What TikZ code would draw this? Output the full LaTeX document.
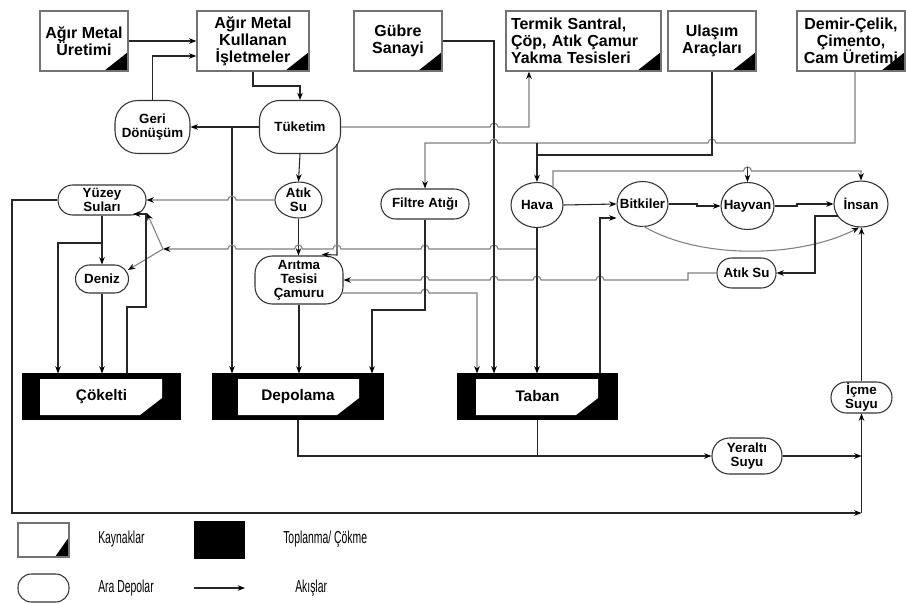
\documentclass[tikz,border=0pt]{standalone}
\usepackage{fontspec}
\setmainfont{Liberation Sans}
\newfontfamily\narrowfont[FakeStretch=0.6]{Liberation Sans}
\usetikzlibrary{arrows.meta,shapes.geometric}
\newcommand{\hpr}[2]{-- ({#1-4},#2) arc[start angle=180,end angle=360,radius=4]}
\newcommand{\hpl}[2]{-- ({#1+4},#2) arc[start angle=0,end angle=-180,radius=4]}
\begin{document}
\begin{tikzpicture}[x=0.75pt,y=-0.75pt,
  every node/.style={inner sep=0pt},
  sz/.style 2 args={minimum width=#1*0.75pt,minimum height=#2*0.75pt},
  srcbox/.style 2 args={draw=black!55, line width=1pt, fill=white, align=center,
    font=\fontsize{12}{12.8}\selectfont\bfseries,
    path picture={\fill[black] (path picture bounding box.south east) -- ++(-#1,0) -- ++(#1,#2) -- cycle;}},
  src/.style={srcbox={18pt}{14.25pt}},
  sinkbox/.style 2 args={fill=black, draw=black, line width=0.8pt,
    font=\fontsize{11.5}{12}\selectfont\bfseries,
    path picture={\fill[white]
      ([xshift=#1*0.75pt,yshift=-3.75pt]path picture bounding box.north west) --
      ([xshift=-#2*0.75pt,yshift=-3.75pt]path picture bounding box.north east) --
      ([xshift=-#2*0.75pt,yshift=15.75pt]path picture bounding box.south east) --
      ([xshift=-#2*0.75pt-16.5pt,yshift=3pt]path picture bounding box.south east) --
      ([xshift=#1*0.75pt,yshift=3pt]path picture bounding box.south west) -- cycle;}},
  mid/.style={draw=black!80, line width=0.8pt, fill=white, align=center,
    font=\fontsize{10}{10.5}\selectfont\bfseries},
  ell/.style={mid, ellipse, inner sep=-4pt},
  flow/.style={draw=black!85, line width=0.8pt, -{Stealth[length=5.5pt,width=4.2pt,color=black]}},
  gflow/.style={flow, draw=black!50},
  ln/.style={draw=black!85, line width=0.8pt},
  leg/.style={font=\narrowfont\fontsize{13}{14}\selectfont}
]
\useasboundingbox[fill=white] (0,0) rectangle (906,603);

% sources
\node[src, sz={88}{60}] (amu) at (84,41) {Ağır Metal\\Üretimi};
\node[src, sz={112}{60}] (amk) at (253,41) {Ağır Metal\\Kullanan\\İşletmeler};
\node[src, sz={88}{60}] (gub) at (398,41) {Gübre\\Sanayi};
\node[src, sz={155}{60}, text width=108.75pt, inner xsep=3.75pt, align=left] (ter) at (583.5,41) {Termik Santral,\\Çöp, Atık Çamur\\Yakma Tesisleri};
\node[src, sz={88}{60}] (ula) at (712,41) {Ulaşım\\Araçları};
\node[src, sz={108}{60}] (dem) at (851,41) {Demir-Çelik,\\Çimento,\\Cam Üretimi};

% intermediate stores
\node[mid, sz={81}{53}, rounded corners=15pt] (tuk) at (300,127) {Tüketim};
\node[mid, sz={75}{53}, rounded corners=17pt] (geri) at (152.5,127) {Geri\\Dönüşüm};
\node[ell, sz={47}{36}] (atik1) at (298.5,200) {Atık\\Su};
\node[mid, sz={88}{48}, rounded corners=13pt] (arit) at (299,280) {Arıtma\\Tesisi\\Çamuru};
\node[mid, sz={88}{30}, rounded corners=11pt] (filt) at (425,204) {Filtre Atığı};
\node[mid, sz={88}{30}, rounded corners=11pt] (yuz) at (102,200) {Yüzey\\Suları};
\node[mid, sz={53}{28}, rounded corners=10.5pt] (den) at (102,279) {Deniz};
\node[ell, sz={52}{45}] (hava) at (537,205) {Hava};
\node[ell, sz={51}{45}] (bit) at (642.5,204) {Bitkiler};
\node[ell, sz={53}{47}] (hay) at (747.5,206) {Hayvan};
\node[ell, sz={54}{46}] (ins) at (861,204) {İnsan};
\node[mid, sz={59}{30}, rounded corners=11pt] (atik2) at (746.5,273) {Atık Su};
\node[mid, sz={61}{31}, rounded corners=11.5pt] (icme) at (861.5,397.5) {İçme\\Suyu};
\node[mid, sz={70}{36}, rounded corners=13pt] (yer) at (747,456) {Yeraltı\\Suyu};

% sinks
\node[sinkbox={17}{18}, sz={157}{45}] (cok) at (101.5,396.5) {Çökelti};
\node[sinkbox={25}{24}, sz={170}{45}] (dep) at (298,396.5) {Depolama};
\node[sinkbox={18}{19}, sz={159}{45}] (tab) at (537.5,396.5) {Taban};

% flows
\draw[flow] (amu.east) -- (amk.west);
\draw[flow] (geri.north) |- ([yshift=-11.25pt]amk.west);
\draw[flow] (amk.south) -- (253,86) -| (tuk.north);
\draw[flow] (tuk.west) -- (geri.east);
\draw[flow] (232,127) -- (232,127 |- dep.north);
\draw[gflow] (tuk.east) \hpr{494}{127} -- (529,127) -- (529,127 |- ter.south);
\draw[flow] (tuk.south) -- (atik1.north);
\draw[flow] (337,144) -- (337,255) -- ([xshift=17pt,yshift=0.75pt]arit.north);
\draw[gflow] (atik1.west) \hpl{232}{200} -- (yuz.east);
\draw[flow] (atik1.south) -- (atik1.south |- arit.north);
\coordinate (split) at (163,249);
\draw[gflow] (537,249) \hpl{494}{249} \hpl{425}{249} \hpl{337}{249} \hpl{298.5}{249} \hpl{232}{249} -- (split);
\draw[gflow] (split) -- (147,213);
\draw[gflow] (split) -- (128,270);
\draw[gflow] (atik2.west) -- (688,273) -- (688,280) \hpl{600}{280} \hpl{537}{280} \hpl{494}{280} \hpl{425}{280} -- (arit.east);
\draw[gflow] (341,293) \hpr{425}{293} -- (477,293) -- (477,293 |- tab.north);
\draw[flow] (filt.south) -- (425,310) -| (372,310 |- dep.north);
\draw[flow] (arit.south) -- (arit.south |- dep.north);
\draw[flow] (gub.east) -| (494,41 |- tab.north);
\draw[gflow] ([xshift=3pt]dem.south) -- (855,143) \hpl{712}{143} \hpl{494}{143} -- (425,143) -- (filt.north);
\draw[ln] (537,143) -- (537,155);
\draw[flow] (ula.south) |- (537,155) -- (hava.north);
\draw[flow] (hava.south) -- (hava.south |- tab.north);
\draw[flow] (hava.east) -- (bit.west);
\draw[gflow] (553,187) -- (553,171) \hpr{747.5}{171} -- (861,171) -- (ins.north);
\draw[flow] (747.5,167) -- (hay.north);
\draw[flow] (bit.east) -- (697,204) -- (697,206) -- (hay.west);
\draw[flow] (hay.east) -- (797,206) -- (797,204) -- (ins.west);
\draw[gflow] (643,226) .. controls (700,260) and (800,258) .. ([xshift=-1.5pt]ins.south);
\draw[flow] (838,216) -- (815,216) |- (atik2.east);
\draw[flow] (icme.north) -- (icme.north |- ins.south);
\draw[flow] (600,0 |- tab.north) -- (600,218) -- ([yshift=-10.5pt]bit.west);
\draw[flow] (dep.south) |- (yer.west);
\draw[ln] (tab.south) -- (tab.south |- yer.west);
\draw[flow] (yer.east) -- (icme.south |- yer.east);
\draw[flow] (icme.south |- 0,513) -- (icme.south);
\draw[flow] (yuz.west) -- (12,200) |- (icme.south |- 0,513);
\draw[flow] (102,243) -| (58,243 |- cok.north);
\draw[flow] (yuz.south) -- (den.north);
\draw[flow] (den.south) -- (den.south |- cok.north);
\draw[flow] (127,0 |- cok.north) -- (127,307) -- (146,307) -- (146,214) -- (133,214);

% legend
\node[srcbox={10.5pt}{15pt}, sz={51}{34}] (lsrc) at (43.5,540) {};
\node[fill=black, sz={51}{38}] (lsink) at (219.5,540) {};
\node[mid, sz={51}{28}, rounded corners=10pt] (lmid) at (43.5,588) {};
\coordinate (la) at (194,588);
\coordinate (lb) at (245,588);
\draw[flow] (la) -- (lb);
\node[leg, anchor=west] (t1) at (98,539) {Kaynaklar};
\node[leg, anchor=west] (t2) at (283,539) {Toplanma/ Çökme};
\node[leg, anchor=west] (t3) at (98,588) {Ara Depolar};
\node[leg, anchor=west] (t4) at (295,588) {Akışlar};
\end{tikzpicture}
\end{document}
